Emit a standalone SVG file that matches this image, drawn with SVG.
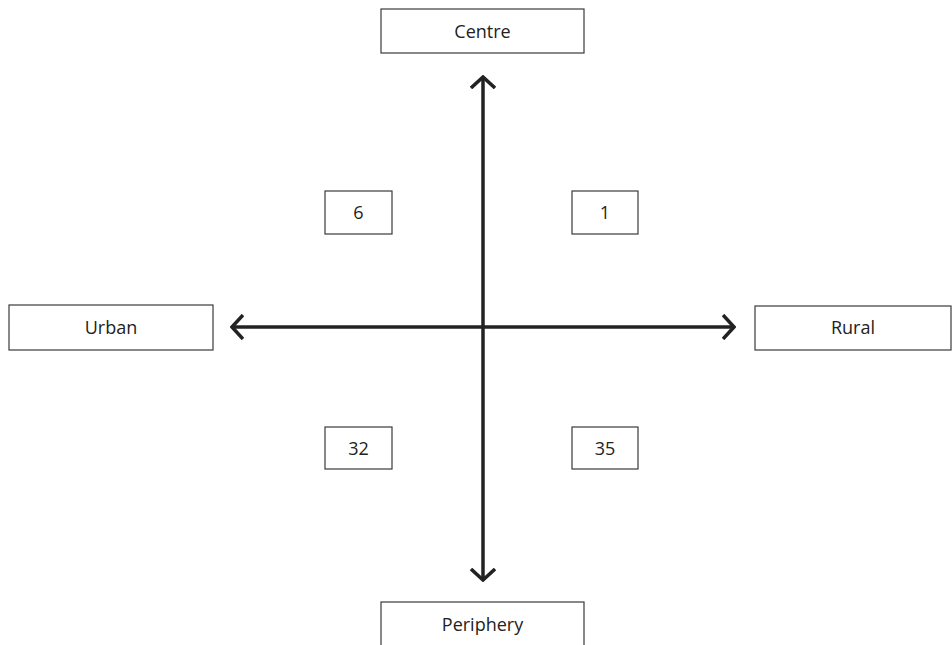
<svg xmlns="http://www.w3.org/2000/svg" width="952" height="645" viewBox="0 0 952 645">
<style>
.box{fill:#fff;stroke:#3a3a3a;stroke-width:1.2}
.lbl{font-family:"Open Sans","Liberation Sans",sans-serif;font-size:18px;fill:#222;text-anchor:middle;dominant-baseline:central}
.ax{stroke:#222;stroke-width:3.5;fill:none}
</style>
<defs>
<marker id="ah" viewBox="0 0 14 26" refX="12" refY="13" markerWidth="14" markerHeight="26" markerUnits="userSpaceOnUse" orient="auto-start-reverse">
<path d="M1,1 L12,13 L1,25" fill="none" stroke="#222" stroke-width="3.5"/>
</marker>
</defs>
<g id="connectors">
<line class="ax" x1="483" y1="77" x2="483" y2="580" marker-start="url(#ah)" marker-end="url(#ah)"/>
<line class="ax" x1="232" y1="327" x2="734" y2="327" marker-start="url(#ah)" marker-end="url(#ah)"/>
</g>
<g id="centre"><rect class="box" x="381" y="9" width="203" height="44"/><text class="lbl" x="482.5" y="31">Centre</text></g>
<g id="urban"><rect class="box" x="9" y="305" width="204" height="45"/><text class="lbl" x="111" y="327">Urban</text></g>
<g id="rural"><rect class="box" x="755" y="306" width="196" height="44"/><text class="lbl" x="853" y="327">Rural</text></g>
<g id="periphery"><rect class="box" x="381" y="602" width="203" height="50"/><text class="lbl" x="482.5" y="624">Periphery</text></g>
<g id="q6"><rect class="box" x="325" y="191" width="67" height="43"/><text class="lbl" x="358.5" y="212">6</text></g>
<g id="q1"><rect class="box" x="572" y="191" width="66" height="43"/><text class="lbl" x="605" y="212">1</text></g>
<g id="q32"><rect class="box" x="325" y="427" width="67" height="42"/><text class="lbl" x="358.5" y="448">32</text></g>
<g id="q35"><rect class="box" x="572" y="427" width="66" height="42"/><text class="lbl" x="605" y="448">35</text></g>
</svg>
